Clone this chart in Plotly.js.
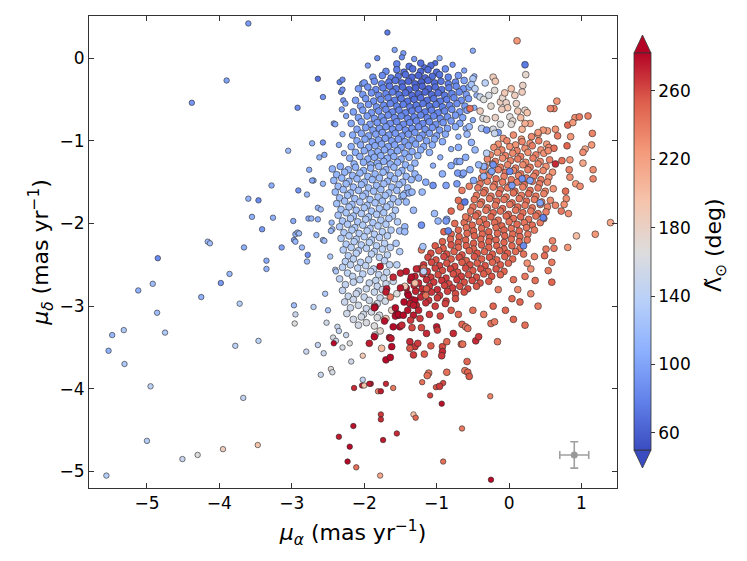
<!DOCTYPE html>
<html><head><meta charset="utf-8">
<script src="https://cdn.plot.ly/plotly-3.0.1.min.js"></script>
<style>html,body{margin:0;padding:0;background:#fff}#chart{width:747px;height:561px}</style>
</head><body><div id="chart"></div>
<script>
// Each point: [mu_alpha (mas/yr), mu_delta (mas/yr), Lambda_sun (deg)]
const halo = [
[-3.60,0.42,95],[-3.90,-0.27,100],[-4.38,-0.54,92],[-2.92,-0.60,85],[-3.05,-1.12,118],[-3.28,-1.54,108],[-3.60,-1.70,112],[-3.46,-1.72,85],[-2.91,-1.60,90],[-3.55,-1.92,110],[-3.26,-1.93,110],[-3.41,-2.07,95],[-2.98,-1.97,105],[-2.97,-2.20,100],[-2.95,-2.22,115],[-2.95,-2.13,115],[-3.14,-2.29,100],[-3.66,-2.29,110],[-4.16,-2.22,120],[-4.13,-2.24,120],[-4.85,-2.42,85],[-3.35,-2.45,105],[-3.35,-2.55,110],[-3.86,-2.61,115],[-3.98,-2.72,95],[-4.92,-2.73,120],[-5.12,-2.81,110],[-4.25,-2.89,110],[-3.72,-2.97,135],[-2.97,-2.99,120],[-2.95,-3.10,150],[-2.96,-3.21,165],[-4.86,-3.08,120],[-5.32,-3.29,130],[-5.48,-3.35,115],[-4.75,-3.32,130],[-5.53,-3.54,110],[-5.31,-3.70,130],[-3.78,-3.48,140],[-3.46,-3.42,140],[-4.95,-3.97,140],[-3.67,-4.11,145],[-5.00,-4.63,135],[-4.51,-4.85,150],[-4.30,-4.80,165],[-3.95,-4.73,185],[-3.47,-4.68,195],[-5.56,-5.05,135]
];
const bottomScatter = [
[-2.14,-3.99,270],[-2.03,-3.96,275],[-2.00,-3.96,195],[-1.91,-3.94,275],[-1.70,-3.94,270],[-1.81,-4.03,235],[-1.77,-4.03,275],[-1.60,-3.99,240],[-1.20,-3.92,245],[-1.01,-3.98,255],[-0.91,-3.93,260],[-1.09,-4.08,262],[-0.93,-4.18,278],[-0.26,-4.09,235],[-1.77,-4.31,265],[-1.77,-4.37,270],[-1.32,-4.31,200],[-1.29,-4.35,250],[-2.15,-4.45,278],[-0.65,-4.48,240],[-2.35,-4.58,275],[-1.55,-4.54,270],[-1.74,-4.62,275],[-2.20,-4.70,280],[-2.23,-4.88,280],[-2.11,-4.95,245],[-0.91,-4.88,245],[-1.78,-5.05,215],[-0.25,-5.10,280],[-1.93,-3.94,275]
];
const sparseNear = [
[-1.68,0.31,75],[-1.58,0.10,100],[-1.46,0.06,95],[-1.48,0.01,85],[-1.82,0.00,85],[-1.31,-0.01,95],[-0.96,0.00,110],[-1.02,-0.06,70],[-1.17,-0.11,70],[-1.95,-0.09,95],[-0.50,0.09,105],[-2.64,-0.25,70],[-2.34,-0.29,80],[-2.30,-0.26,85],[-2.03,-0.31,100],[-2.32,-0.41,80],[-2.30,-0.38,90],[-2.57,-0.47,90],[-2.29,-0.51,95],[-2.26,-0.55,100],[-2.31,-0.62,100],[-2.42,-0.79,95],[-2.40,-0.80,105],[-2.72,-1.03,110],[-2.57,-1.02,90],[-2.62,-1.20,110],[-2.55,-1.17,105],[-2.25,-0.70,100],[-2.30,-0.92,108],[-2.35,-1.05,110],[-2.28,-1.15,112],[-0.78,-0.08,90],[-0.62,-0.15,100],[-0.48,-0.22,115],[-0.45,-0.45,112],[-0.48,-0.60,110],[-0.50,-0.75,105],[-0.60,-0.85,108],[-0.70,-0.95,110],[-0.80,-1.10,108],[-0.95,-1.20,112],[-1.05,-1.30,110],
[-2.76,-1.35,110],[-2.70,-1.48,115],[-2.72,-1.48,105],[-2.57,-1.52,115],[-2.79,-1.65,115],[-2.64,-1.81,115],[-2.60,-1.83,120],[-2.77,-1.94,105],[-2.73,-1.94,115],[-2.45,-1.99,115],[-2.44,-2.07,125],[-2.46,-2.09,120],[-2.92,-2.11,120],[-2.90,-2.12,120],[-2.86,-2.29,120],[-2.57,-2.20,125],[-2.55,-2.21,120],[-2.78,-2.38,90],[-2.79,-2.46,120],[-2.47,-2.40,130],[-2.70,-3.01,140],[-2.64,-1.95,110],[-2.66,-2.14,115],[-2.40,-2.56,140],[-2.39,-2.58,130],[-2.54,-2.85,130],[-2.50,-3.05,130],[-2.52,-3.20,155],[-2.37,-3.25,150],[-2.43,-3.38,160],[-2.39,-3.42,155],[-2.42,-3.45,280],[-2.64,-3.47,145],[-2.80,-3.55,150],[-2.56,-3.57,150],[-2.18,-3.67,155],[-2.02,-3.60,190],[-2.60,-3.83,150],[-2.46,-3.76,170],[-2.44,-3.80,160],[-2.02,-3.89,145],[-2.35,-3.30,145],[-2.30,-3.50,160],[-2.25,-3.35,150],[-2.20,-3.45,165]
];
const blueCore = [
[-1.55,-0.07,80],[-1.38,-0.10,72],[-1.22,-0.06,70],[-1.08,-0.09,68],
[-1.70,-0.16,85],[-1.55,-0.14,78],[-1.45,-0.17,72],[-1.33,-0.13,70],[-1.22,-0.16,66],[-1.12,-0.14,68],[-1.00,-0.17,70],[-0.88,-0.13,88],
[-1.88,-0.23,92],[-1.75,-0.21,85],[-1.63,-0.24,80],[-1.53,-0.22,74],[-1.43,-0.20,70],[-1.34,-0.23,66],[-1.25,-0.21,64],[-1.16,-0.24,66],[-1.06,-0.22,68],[-0.96,-0.20,72],[-0.84,-0.23,80],[-0.70,-0.21,95],
[-2.00,-0.30,95],[-1.86,-0.28,88],[-1.76,-0.31,82],[-1.66,-0.29,76],[-1.57,-0.27,72],[-1.48,-0.30,68],[-1.39,-0.28,65],[-1.30,-0.31,64],[-1.21,-0.29,63],[-1.12,-0.27,66],[-1.03,-0.30,68],[-0.94,-0.28,72],[-0.84,-0.31,78],[-0.74,-0.29,84],[-0.62,-0.27,100],
[-2.08,-0.37,96],[-1.95,-0.35,90],[-1.84,-0.38,85],[-1.74,-0.36,80],[-1.65,-0.34,75],[-1.56,-0.37,72],[-1.47,-0.35,68],[-1.38,-0.38,66],[-1.29,-0.36,64],[-1.20,-0.34,64],[-1.11,-0.37,65],[-1.02,-0.35,68],[-0.93,-0.38,72],[-0.83,-0.36,78],[-0.73,-0.34,85],[-0.63,-0.37,92],[-0.55,-0.35,105],
[-2.02,-0.44,95],[-1.90,-0.42,90],[-1.80,-0.45,86],[-1.70,-0.43,82],[-1.61,-0.41,78],[-1.52,-0.44,74],[-1.43,-0.42,70],[-1.34,-0.45,68],[-1.25,-0.43,66],[-1.16,-0.41,66],[-1.07,-0.44,68],[-0.98,-0.42,70],[-0.89,-0.45,74],[-0.79,-0.43,80],[-0.69,-0.41,86],[-0.59,-0.44,95],
[-2.12,-0.51,98],[-1.98,-0.49,94],[-1.87,-0.52,90],[-1.77,-0.50,86],[-1.67,-0.48,82],[-1.58,-0.51,78],[-1.49,-0.49,75],[-1.40,-0.52,72],[-1.31,-0.50,70],[-1.22,-0.48,70],[-1.13,-0.51,70],[-1.04,-0.49,72],[-0.95,-0.52,75],[-0.86,-0.50,78],[-0.76,-0.48,84],[-0.66,-0.51,90],[-0.56,-0.49,98],
[-2.05,-0.58,98],[-1.94,-0.56,94],[-1.83,-0.59,90],[-1.73,-0.57,86],[-1.64,-0.55,83],[-1.55,-0.58,80],[-1.46,-0.56,78],[-1.37,-0.59,76],[-1.28,-0.57,75],[-1.19,-0.55,74],[-1.10,-0.58,74],[-1.01,-0.56,76],[-0.92,-0.59,79],[-0.82,-0.57,83],[-0.72,-0.55,88],[-0.61,-0.58,95],
[-2.15,-0.65,100],[-2.02,-0.63,97],[-1.90,-0.66,94],[-1.80,-0.64,90],[-1.70,-0.62,87],[-1.61,-0.65,84],[-1.52,-0.63,82],[-1.43,-0.66,80],[-1.34,-0.64,79],[-1.25,-0.62,78],[-1.16,-0.65,78],[-1.07,-0.63,79],[-0.98,-0.66,81],[-0.89,-0.64,84],[-0.79,-0.62,88],[-0.68,-0.65,94],[-0.58,-0.63,100],
[-2.08,-0.72,100],[-1.96,-0.70,97],[-1.86,-0.73,94],[-1.76,-0.71,91],[-1.67,-0.69,88],[-1.58,-0.72,86],[-1.49,-0.70,84],[-1.40,-0.73,83],[-1.31,-0.71,82],[-1.22,-0.69,82],[-1.13,-0.72,82],[-1.04,-0.70,84],[-0.95,-0.73,86],[-0.85,-0.71,90],[-0.74,-0.69,95],[-0.64,-0.72,102],
[-2.18,-0.79,104],[-2.04,-0.77,100],[-1.92,-0.80,97],[-1.82,-0.78,95],[-1.73,-0.76,92],[-1.64,-0.79,90],[-1.55,-0.77,88],[-1.46,-0.80,87],[-1.37,-0.78,86],[-1.28,-0.76,86],[-1.19,-0.79,86],[-1.10,-0.77,87],[-1.01,-0.80,89],[-0.91,-0.78,92],[-0.80,-0.76,96],[-0.68,-0.79,104],
[-2.10,-0.86,103],[-1.98,-0.84,100],[-1.88,-0.87,98],[-1.79,-0.85,96],[-1.70,-0.83,94],[-1.61,-0.86,92],[-1.52,-0.84,91],[-1.43,-0.87,90],[-1.34,-0.85,90],[-1.25,-0.83,90],[-1.16,-0.86,91],[-1.06,-0.84,93],[-0.96,-0.87,96],[-0.85,-0.85,100],[-0.74,-0.83,106],
[-2.16,-0.93,106],[-2.04,-0.91,103],[-1.94,-0.94,101],[-1.84,-0.92,99],[-1.75,-0.90,97],[-1.66,-0.93,96],[-1.57,-0.91,95],[-1.48,-0.94,94],[-1.39,-0.92,94],[-1.30,-0.90,94],[-1.20,-0.93,95],[-1.10,-0.91,97],[-1.00,-0.94,100],[-0.88,-0.92,104],
[-2.10,-1.00,106],[-1.99,-0.98,104],[-1.89,-1.01,102],[-1.80,-0.99,100],[-1.71,-0.97,99],[-1.62,-1.00,98],[-1.53,-0.98,98],[-1.44,-1.01,98],[-1.34,-0.99,98],[-1.24,-0.97,99],[-1.14,-1.00,101],[-1.03,-0.98,104],[-0.92,-1.01,108],
[-2.18,-1.07,110],[-2.05,-1.05,107],[-1.94,-1.08,105],[-1.85,-1.06,104],[-1.76,-1.04,103],[-1.67,-1.07,102],[-1.58,-1.05,102],[-1.49,-1.08,102],[-1.39,-1.06,102],[-1.29,-1.04,103],[-1.18,-1.07,105],[-1.06,-1.05,108],
[-2.12,-1.14,110],[-2.00,-1.12,108],[-1.90,-1.15,107],[-1.81,-1.13,106],[-1.72,-1.11,106],[-1.63,-1.14,105],[-1.54,-1.12,105],[-1.44,-1.15,106],[-1.34,-1.13,107],[-1.22,-1.11,109],[-1.10,-1.14,112],
[-2.20,-1.21,112],[-2.06,-1.19,110],[-1.95,-1.22,109],[-1.86,-1.20,108],[-1.77,-1.18,108],[-1.68,-1.21,108],[-1.59,-1.19,108],[-1.49,-1.22,109],[-1.38,-1.20,111],[-1.26,-1.18,113],
[-2.14,-1.28,113],[-2.01,-1.26,111],[-1.91,-1.29,110],[-1.82,-1.27,110],[-1.73,-1.25,110],[-1.64,-1.28,111],[-1.54,-1.26,112],[-1.43,-1.29,113],[-1.30,-1.27,115]
];
const stream = [
[-2.44,-1.34,112],[-2.33,-1.31,110],[-2.22,-1.35,114],[-2.12,-1.32,112],[-2.01,-1.36,113],[-1.91,-1.33,111],[-1.80,-1.31,114],[-1.70,-1.35,112],[-1.59,-1.32,115],[-1.48,-1.36,113],[-1.36,-1.33,116],
[-2.38,-1.41,114],[-2.27,-1.38,113],[-2.16,-1.42,116],[-2.06,-1.39,114],[-1.95,-1.43,116],[-1.85,-1.40,115],[-1.74,-1.38,117],[-1.64,-1.42,115],[-1.53,-1.39,118],[-1.42,-1.43,116],[-1.30,-1.40,114],
[-2.42,-1.48,116],[-2.31,-1.45,115],[-2.21,-1.49,118],[-2.10,-1.46,116],[-2.00,-1.50,119],[-1.89,-1.47,117],[-1.79,-1.45,119],[-1.68,-1.49,117],[-1.58,-1.46,120],[-1.47,-1.50,118],[-1.35,-1.47,116],
[-2.36,-1.55,118],[-2.25,-1.52,117],[-2.15,-1.56,120],[-2.04,-1.53,118],[-1.94,-1.57,121],[-1.83,-1.54,119],[-1.73,-1.52,121],[-1.62,-1.56,119],[-1.52,-1.53,122],[-1.40,-1.57,120],
[-2.40,-1.62,119],[-2.29,-1.59,121],[-2.19,-1.63,120],[-2.08,-1.60,122],[-1.98,-1.64,121],[-1.87,-1.61,123],[-1.77,-1.59,121],[-1.66,-1.63,124],[-1.55,-1.60,122],[-1.44,-1.64,120],
[-2.34,-1.69,121],[-2.23,-1.66,123],[-2.13,-1.70,122],[-2.02,-1.67,124],[-1.92,-1.71,123],[-1.81,-1.68,125],[-1.71,-1.66,123],[-1.60,-1.70,126],[-1.48,-1.67,124],
[-2.38,-1.76,123],[-2.27,-1.73,124],[-2.17,-1.77,123],[-2.06,-1.74,126],[-1.96,-1.78,125],[-1.85,-1.75,127],[-1.75,-1.73,125],[-1.64,-1.77,128],[-1.53,-1.74,126],
[-2.32,-1.83,125],[-2.21,-1.80,126],[-2.11,-1.84,125],[-2.00,-1.81,128],[-1.90,-1.85,127],[-1.79,-1.82,129],[-1.69,-1.80,127],[-1.57,-1.84,130],
[-2.36,-1.90,126],[-2.25,-1.87,128],[-2.15,-1.91,127],[-2.04,-1.88,130],[-1.94,-1.92,128],[-1.83,-1.89,131],[-1.73,-1.87,129],[-1.61,-1.91,132],
[-2.30,-1.97,128],[-2.19,-1.94,130],[-2.09,-1.98,129],[-1.98,-1.95,132],[-1.88,-1.99,130],[-1.77,-1.96,133],[-1.66,-1.94,131],[-1.54,-1.98,134],
[-2.34,-2.04,130],[-2.23,-2.01,131],[-2.13,-2.05,130],[-2.02,-2.02,133],[-1.92,-2.06,132],[-1.81,-2.03,134],[-1.70,-2.01,133],
[-2.28,-2.11,131],[-2.17,-2.08,133],[-2.07,-2.12,132],[-1.96,-2.09,135],[-1.86,-2.13,134],[-1.75,-2.10,136],[-1.63,-2.08,134],
[-2.32,-2.18,133],[-2.21,-2.15,134],[-2.11,-2.19,133],[-2.00,-2.16,136],[-1.90,-2.20,135],[-1.79,-2.17,137],[-1.68,-2.15,136],
[-2.25,-2.25,134],[-2.14,-2.22,136],[-2.04,-2.26,135],[-1.93,-2.23,138],[-1.83,-2.27,137],[-1.72,-2.24,139],
[-2.29,-2.32,136],[-2.18,-2.29,137],[-2.08,-2.33,136],[-1.97,-2.30,139],[-1.86,-2.34,138],[-1.75,-2.31,140],[-1.64,-2.29,139],
[-2.22,-2.39,137],[-2.11,-2.36,139],[-1.90,-2.37,141],[-1.79,-2.41,140],[-1.68,-2.38,142],
[-2.26,-2.46,139],[-2.15,-2.43,140],[-2.05,-2.47,139],[-1.94,-2.44,142],[-1.72,-2.45,143],
[-2.30,-2.53,140],[-2.19,-2.50,142],[-2.09,-2.54,141],[-1.98,-2.51,144],[-1.87,-2.55,143],[-1.65,-2.50,144],
[-2.23,-2.60,142],[-2.02,-2.61,142],[-1.91,-2.58,145],[-1.80,-2.62,144],[-1.69,-2.59,146],
[-2.34,-2.67,143],[-2.16,-2.64,145],[-2.06,-2.68,144],[-1.84,-2.69,146],[-1.73,-2.66,148],
[-2.26,-2.74,145],[-2.15,-2.71,146],[-1.93,-2.72,148],[-1.82,-2.76,147],[-1.70,-2.73,150],
[-2.30,-2.81,146],[-2.08,-2.82,147],[-1.97,-2.79,150],[-1.86,-2.83,149],[-1.75,-2.80,152],
[-2.22,-2.88,148],[-2.11,-2.85,150],[-2.00,-2.89,149],[-1.78,-2.90,151],
[-2.27,-2.95,150],[-2.15,-2.92,152],[-1.93,-2.93,154],[-1.82,-2.97,153],[-1.71,-2.94,156],
[-2.19,-3.02,152],[-2.08,-2.99,154],[-1.97,-3.03,153],[-1.86,-3.00,156],
[-2.24,-3.09,154],[-2.01,-3.10,155],[-1.90,-3.07,158],[-1.79,-3.11,160],
[-2.15,-3.16,156],[-2.04,-3.13,158],[-1.82,-3.14,163],
[-2.08,-3.23,158],[-1.97,-3.20,162],[-1.86,-3.24,166],
[-1.46,-1.66,115],[-1.38,-1.63,110],[-1.34,-1.62,115],[-1.42,-1.74,118],[-1.32,-1.84,120],[-1.51,-2.09,125],[-1.44,-2.04,115],[-1.44,-2.10,120],[-1.56,-2.24,130],[-1.51,-2.34,135],[-1.25,-1.45,112],[-1.15,-1.50,108],[-1.20,-1.62,118],[-1.55,-2.50,140],[-1.60,-2.70,150],[-1.55,-2.85,165],[-1.62,-3.05,180],[-1.70,-3.15,190],[-1.78,-3.30,175],[-1.85,-3.35,160]
];
const beige = [
[0.22,-0.08,75],[0.23,-0.20,175],[-0.22,-0.23,185],[-0.19,-0.28,190],[-0.33,-0.30,140],[-0.50,-0.25,130],[-0.52,-0.32,125],[-0.47,-0.37,140],[-0.20,-0.39,170],[0.03,-0.37,195],[0.19,-0.33,180],[0.18,-0.41,185],[-0.40,-0.47,150],[-0.35,-0.50,165],[-0.12,-0.53,185],[-0.09,-0.48,175],[-0.04,-0.54,180],[-0.02,-0.60,190],[0.22,-0.63,175],[0.25,-0.66,195],[-0.40,-0.64,185],[-0.36,-0.73,165],[-0.31,-0.74,175],[-0.19,-0.72,180],[0.01,-0.71,170],[0.05,-0.76,175],[0.03,-0.80,170],[-0.54,-0.61,245],[-0.55,-0.83,120],[-0.38,-0.85,140],[-0.31,-0.87,90],[-0.10,-0.62,185],[0.10,-0.55,180],[0.12,-0.64,190],[-0.25,-0.58,175],[-0.06,-0.42,190],[0.08,-0.45,185],[-0.28,-0.45,160],[0.16,-0.72,200],[-0.12,-0.80,165],[-0.22,-0.86,160],[0.18,-0.86,205],[-0.15,-0.90,95],[-0.20,-0.91,150]
];
const redCore = [
[-0.08,-0.97,225],[0.06,-0.93,230],[0.17,-0.98,222],[0.31,-0.95,232],[0.40,-0.92,218],
[-0.15,-1.04,228],[-0.03,-1.00,232],[0.09,-1.05,226],[0.18,-1.01,234],[0.29,-1.03,228],[0.41,-1.00,236],[0.52,-1.04,222],
[-0.21,-1.08,230],[-0.10,-1.11,234],[0.01,-1.07,228],[0.11,-1.12,236],[0.22,-1.09,230],[0.32,-1.06,238],[0.44,-1.11,226],[0.55,-1.08,232],
[-0.26,-1.17,232],[-0.16,-1.14,226],[-0.05,-1.18,236],[0.05,-1.15,232],[0.16,-1.19,238],[0.26,-1.14,230],[0.37,-1.17,236],[0.48,-1.15,228],
[-0.30,-1.22,234],[-0.19,-1.25,238],[-0.09,-1.21,230],[0.02,-1.24,236],[0.12,-1.22,240],[0.23,-1.26,232],[0.33,-1.21,238],[0.43,-1.25,230],[0.56,-1.23,236],
[-0.33,-1.31,236],[-0.23,-1.28,232],[-0.12,-1.32,240],[-0.02,-1.29,234],[0.09,-1.33,238],[0.19,-1.29,232],[0.29,-1.32,240],[0.40,-1.28,234],[0.51,-1.31,228],
[-0.36,-1.36,234],[-0.26,-1.39,240],[-0.15,-1.35,236],[-0.05,-1.38,242],[0.06,-1.36,234],[0.16,-1.40,240],[0.26,-1.35,236],[0.37,-1.39,242],[0.47,-1.36,232],[0.60,-1.38,226],
[-0.38,-1.45,238],[-0.28,-1.42,234],[-0.18,-1.46,242],[-0.07,-1.43,236],[0.03,-1.47,240],[0.13,-1.42,234],[0.24,-1.45,242],[0.34,-1.43,236],[0.44,-1.47,238],[0.55,-1.44,230],
[-0.40,-1.52,240],[-0.30,-1.49,236],[-0.20,-1.53,244],[-0.09,-1.50,238],[0.01,-1.54,242],[0.11,-1.50,236],[0.21,-1.53,244],[0.32,-1.49,238],[0.42,-1.52,240],[0.53,-1.50,232],
[-0.43,-1.57,238],[-0.33,-1.60,242],[-0.22,-1.56,236],[-0.12,-1.59,244],[-0.02,-1.57,238],[0.08,-1.61,242],[0.19,-1.56,236],[0.29,-1.60,244],[0.40,-1.57,238],[0.50,-1.61,234],[0.61,-1.58,228],
[-0.45,-1.66,240],[-0.35,-1.63,244],[-0.25,-1.67,238],[-0.14,-1.64,246],[-0.04,-1.68,240],[0.06,-1.63,244],[0.17,-1.66,238],[0.27,-1.64,246],[0.37,-1.67,240],[0.48,-1.64,236],
[-0.48,-1.71,242],[-0.38,-1.74,246],[-0.27,-1.70,240],[-0.17,-1.73,246],[-0.07,-1.71,242],[0.04,-1.75,246],[0.14,-1.70,240],[0.24,-1.73,246],[0.35,-1.71,240],[0.45,-1.74,238],[0.57,-1.72,232],
[-0.50,-1.80,244],[-0.40,-1.77,240],[-0.30,-1.81,246],[-0.19,-1.78,242],[-0.09,-1.82,248],[0.01,-1.77,242],[0.12,-1.80,246],[0.22,-1.78,240],[0.32,-1.81,244],[0.43,-1.77,238],[0.53,-1.80,234],
[-0.53,-1.85,242],[-0.43,-1.88,246],[-0.32,-1.84,242],[-0.22,-1.87,248],[-0.12,-1.85,244],[-0.01,-1.89,248],[0.09,-1.84,242],[0.19,-1.87,246],[0.30,-1.85,240],[0.40,-1.88,244],[0.51,-1.86,236],
[-0.56,-1.94,244],[-0.46,-1.91,248],[-0.35,-1.95,244],[-0.25,-1.92,250],[-0.15,-1.96,244],[-0.04,-1.91,248],[0.06,-1.94,244],[0.16,-1.92,248],[0.27,-1.95,242],[0.37,-1.91,244],[0.48,-1.94,238],
[-0.62,-1.99,246],[-0.51,-2.02,250],[-0.41,-1.98,244],[-0.31,-2.01,250],[-0.20,-1.99,246],[-0.10,-2.03,250],[0.00,-1.98,244],[0.11,-2.01,248],[0.21,-1.99,242],[0.32,-2.02,246],[0.43,-1.99,240],
[-0.70,-2.08,248],[-0.59,-2.05,244],[-0.49,-2.09,250],[-0.38,-2.06,246],[-0.28,-2.10,252],[-0.18,-2.05,246],[-0.07,-2.08,250],[0.03,-2.06,244],[0.14,-2.09,248],[0.24,-2.05,242],[0.35,-2.08,240],
[-0.80,-2.13,250],[-0.69,-2.16,252],[-0.58,-2.12,248],[-0.48,-2.15,252],[-0.37,-2.13,248],[-0.27,-2.17,252],[-0.16,-2.12,248],[-0.06,-2.15,250],[0.05,-2.13,246],[0.15,-2.16,248],[0.26,-2.13,242],
[-0.92,-2.22,252],[-0.81,-2.19,248],[-0.70,-2.23,254],[-0.60,-2.20,250],[-0.49,-2.24,254],[-0.39,-2.19,248],[-0.28,-2.22,252],[-0.18,-2.20,248],[-0.07,-2.23,250],[0.03,-2.19,246],[0.14,-2.22,248],[0.25,-2.20,242],
[-1.02,-2.27,255],[-0.91,-2.30,252],[-0.80,-2.26,256],[-0.70,-2.29,250],[-0.59,-2.27,254],[-0.49,-2.31,250],[-0.38,-2.26,254],[-0.28,-2.29,250],[-0.17,-2.27,252],[-0.07,-2.31,248],[0.04,-2.27,250],[0.15,-2.30,244],
[-1.08,-2.36,258],[-0.97,-2.33,254],[-0.86,-2.37,258],[-0.76,-2.34,252],[-0.65,-2.38,256],[-0.55,-2.33,252],[-0.44,-2.36,256],[-0.34,-2.34,250],[-0.23,-2.37,254],[-0.13,-2.33,250],[-0.02,-2.36,252],[0.09,-2.34,246],[0.20,-2.37,244],
[-1.12,-2.41,260],[-1.01,-2.44,256],[-0.90,-2.40,260],[-0.80,-2.43,254],[-0.69,-2.41,258],[-0.59,-2.45,252],[-0.48,-2.40,256],[-0.38,-2.43,252],[-0.27,-2.41,256],[-0.17,-2.44,250],[-0.06,-2.40,252],[0.05,-2.43,248],
[-1.18,-2.50,265],[-1.07,-2.47,260],[-0.96,-2.51,262],[-0.86,-2.48,256],[-0.75,-2.52,260],[-0.65,-2.47,254],[-0.54,-2.50,258],[-0.44,-2.48,252],[-0.33,-2.51,256],[-0.23,-2.47,250],[-0.12,-2.50,254],[-0.01,-2.48,248],
[-1.24,-2.55,270],[-1.13,-2.58,265],[-1.02,-2.54,262],[-0.92,-2.57,258],[-0.81,-2.55,262],[-0.71,-2.59,256],[-0.60,-2.54,260],[-0.50,-2.57,254],[-0.39,-2.55,258],[-0.29,-2.58,252],[-0.18,-2.55,256],[-0.07,-2.58,250],
[-1.30,-2.64,272],[-1.19,-2.61,268],[-1.08,-2.65,264],[-0.98,-2.62,260],[-0.87,-2.66,264],[-0.77,-2.61,258],[-0.66,-2.64,262],[-0.56,-2.62,256],[-0.45,-2.65,258],[-0.35,-2.61,254],[-0.24,-2.64,256],[-0.12,-2.62,250],
[-1.36,-2.69,275],[-1.25,-2.72,272],[-1.14,-2.68,268],[-1.04,-2.71,264],[-0.93,-2.69,266],[-0.83,-2.73,260],[-0.72,-2.68,264],[-0.62,-2.71,258],[-0.51,-2.69,260],[-0.40,-2.72,256],[-0.28,-2.70,254],
[-1.42,-2.78,278],[-1.31,-2.75,274],[-1.20,-2.79,270],[-1.10,-2.76,266],[-0.99,-2.80,268],[-0.89,-2.75,262],[-0.78,-2.78,264],[-0.68,-2.76,258],[-0.57,-2.79,260],[-0.45,-2.76,256],
[-1.40,-2.85,276],[-1.29,-2.82,272],[-1.18,-2.86,268],[-1.07,-2.83,266],[-0.96,-2.87,264],[-0.85,-2.82,262],[-0.74,-2.85,260],[-0.62,-2.83,258],
[-1.34,-2.92,274],[-1.22,-2.89,270],[-1.11,-2.93,266],[-0.99,-2.90,264],[-0.87,-2.94,262],[-0.74,-2.91,258],
[-1.28,-2.99,272],[-1.15,-2.96,268],[-1.02,-3.00,264],[-0.88,-2.97,262],
[-0.70,-1.72,245],[-0.67,-1.80,242],[-0.80,-1.85,248],[-0.60,-1.92,240],[-0.75,-2.00,246],[-0.90,-2.10,248],[-0.65,-1.60,238],[-0.55,-1.55,236]
];
const darkTail = [
[-1.78,-2.52,275],[-1.69,-2.79,275],[-1.85,-3.01,275],[-1.64,-2.89,240],[-1.39,-2.87,282],[-1.30,-2.93,280],[-1.37,-2.97,275],[-1.18,-2.54,250],[-1.21,-2.32,240],[-1.14,-2.79,255],[-1.15,-2.87,245],[-1.55,-3.09,280],[-1.52,-3.11,275],[-1.57,-3.12,280],[-1.30,-2.72,200],[-1.44,-2.76,190],[-1.86,-3.02,280],[-1.70,-2.83,275],[-1.32,-2.99,275],[-1.57,-3.02,280],[-1.53,-3.10,282],[-1.46,-3.11,280],[-1.32,-3.11,275],[-1.23,-3.15,265],[-1.51,-3.25,280],[-1.48,-3.23,270],[-1.36,-3.17,265],[-1.34,-3.26,260],[-1.86,-3.37,280],[-1.65,-3.38,280],[-1.63,-3.39,275],[-1.37,-3.43,270],[-1.30,-3.49,265],[-1.26,-3.45,265],[-1.37,-3.51,255],[-1.32,-3.59,265],[-1.08,-3.48,255],[-0.92,-3.49,260],[-0.92,-3.55,270],[-0.93,-3.60,265],[-0.86,-3.43,250],[-1.17,-3.58,255],[-0.66,-3.46,250],[-0.64,-3.46,245],[-0.46,-3.42,270],[-0.42,-3.37,265],[-0.16,-3.43,240],[-0.58,-3.67,250],[-0.61,-3.78,240],[-0.57,-3.80,250],[-0.55,-3.85,255],[-0.86,-3.80,245],[-1.11,-3.81,240],[-1.13,-3.84,245],[-0.96,-3.97,265],[-1.21,-3.26,260],[-1.14,-3.33,270],[-1.00,-3.25,275],[-0.99,-3.29,265],[-0.77,-3.33,270],[-0.65,-3.22,250],[-0.60,-3.25,240],[-0.57,-3.27,245],[-0.25,-3.21,245],[-0.20,-3.19,240],[-1.76,-3.51,200],[-1.62,-3.49,280],[-1.70,-3.65,280],[-1.64,-3.62,280],[-1.93,-3.45,275],[-1.40,-3.05,278],[-1.45,-2.95,280],[-1.25,-3.05,272],[-1.10,-3.10,265],[-0.95,-3.12,260],[-0.80,-3.05,255],[-0.70,-3.10,250],[-0.50,-3.05,245],[-0.35,-3.10,240],[-1.60,-2.65,270],[-1.50,-2.60,272],[-1.42,-2.58,275],[-1.35,-2.65,278],[-1.28,-2.55,270],[-1.50,-2.78,276],[-1.60,-3.25,280],[-1.72,-3.18,278],[-0.05,-3.05,250],[0.06,-2.68,245],[0.22,-2.64,240],[0.04,-2.91,248],[-0.22,-3.00,250],[-0.15,-2.80,238],[0.12,-2.80,232],[0.30,-2.55,230],[0.35,-2.40,236],[0.25,-2.48,228]
];
const salmon = [
[0.11,0.21,225],[0.66,-0.52,225],[0.62,-0.61,235],[0.57,-0.61,235],[0.91,-0.72,230],[0.97,-0.71,240],[1.09,-0.70,235],[0.81,-0.81,250],[0.88,-0.78,225],[0.64,-0.86,225],[0.67,-0.94,240],[0.53,-0.88,220],[0.47,-0.87,225],[0.40,-0.90,225],[0.29,-0.79,215],[0.22,-0.79,210],[1.15,-0.91,235],[0.85,-0.95,225],[1.14,-1.05,225],[0.80,-1.06,250],[1.05,-1.10,215],[0.62,-1.09,245],[0.54,-1.12,230],[1.02,-1.14,230],[0.73,-1.24,245],[0.84,-1.23,225],[1.02,-1.27,215],[0.64,-1.28,270],[1.16,-1.35,230],[0.83,-1.35,235],[0.84,-1.44,230],[1.16,-1.46,235],[0.92,-1.52,225],[0.98,-1.55,230],[0.78,-1.61,245],[0.79,-1.70,230],[0.64,-1.78,235],[0.72,-1.85,240],[0.82,-1.88,230],[0.76,-1.77,230],[1.40,-1.99,215],[1.19,-2.13,225],[0.93,-2.15,200],[0.81,-2.29,225],[0.60,-2.21,235],[0.62,-2.30,240],[0.51,-2.31,240],[0.49,-2.39,245],[0.59,-2.47,240],[0.54,-2.57,240],[0.59,-2.71,250],[0.40,-3.00,240],[0.22,-3.23,245],[0.36,-2.69,245],[0.30,-2.85,235],[0.15,-2.95,250],[0.06,-3.16,250]
];
const sprinkled = [
[0.01,-1.37,85],[0.04,-1.54,95],[0.18,-1.46,90],[0.29,-1.48,100],[0.47,-1.93,80],[0.43,-1.75,100],[-0.24,-1.37,100],[-0.22,-1.29,90],[-0.61,-1.74,75],[-0.86,-1.95,110],[-0.84,-2.09,80],[-1.21,-2.02,90],[-1.19,-2.28,125],[-1.18,-2.58,140],[-0.72,-1.25,100],[-0.68,-1.25,105],[-0.54,-1.35,110],[-0.49,-1.48,105],[-0.65,-1.41,100],[-0.71,-1.39,95],[-0.35,-1.31,110],[-0.35,-1.43,115],[-0.31,-1.15,140],[-0.47,-1.11,115],[-0.87,-1.54,100],[-0.72,-1.52,95],[-0.87,-1.97,95],[-1.05,-1.54,90],[-0.63,-1.39,100],[-0.42,-1.29,115],[-1.03,-1.88,120],[-0.98,-1.97,115],[-0.60,-1.20,108],[-0.80,-1.30,105],[-0.92,-1.40,110],[-0.52,-1.02,112],[-0.70,-1.08,110],[-0.58,-0.92,118],[0.20,-2.27,85]
];
// reference error bar (typical uncertainty)
const errX = [0.90], errY = [-4.80], errDx = [0.20], errDy = [0.16];
const xTicks = [-5,-4,-3,-2,-1,0,1];
const yTicks = [-5,-4,-3,-2,-1,0];
const cbTicks = [60,100,140,180,220,260];
const lamMin = 50, lamMax = 282;

const coolwarm = [[0,'#3b4cc0'],[0.125,'#6282ea'],[0.25,'#8db0fe'],[0.375,'#b8d0f9'],[0.5,'#dddcdc'],[0.625,'#f5c4ac'],[0.75,'#f49a7b'],[0.875,'#de604d'],[1,'#b40426']];
const col = (arr,i) => arr.map(p => p[i]);

const mainPts = [].concat(blueCore, stream, beige, redCore, darkTail, salmon, sprinkled);
const smallPts = [].concat(halo, sparseNear, bottomScatter);
const mline = {color:'#262626', width:0.6};

const traces = [
 {type:'scatter', mode:'markers', x:col(smallPts,0), y:col(smallPts,1), hoverinfo:'skip',
  marker:{size:5.5, color:col(smallPts,2), colorscale:coolwarm, cmin:lamMin, cmax:lamMax, showscale:false, line:mline}},
 {type:'scatter', mode:'markers', x:col(mainPts,0), y:col(mainPts,1), hoverinfo:'skip',
  marker:{size:6.8, color:col(mainPts,2), colorscale:coolwarm, cmin:lamMin, cmax:lamMax, showscale:true, line:mline,
   colorbar:{x:1.032, xanchor:'left', xpad:0, y:0.501, yanchor:'middle', ypad:0, len:0.841, lenmode:'fraction',
     thickness:17, thicknessmode:'pixels', outlinewidth:0.8, outlinecolor:'#333',
     tickmode:'array', tickvals:cbTicks, ticks:'outside', ticklen:4, tickcolor:'#333', tickfont:{size:17, color:'#000'}}}},
 {type:'scatter', mode:'markers', x:errX, y:errY, hoverinfo:'skip',
  marker:{size:7, color:'#999999'},
  error_x:{type:'data', array:errDx, color:'#a0a0a0', thickness:1.6, width:4},
  error_y:{type:'data', array:errDy, color:'#a0a0a0', thickness:1.6, width:4}}
];

const axisBase = {ticks:'inside', ticklen:5, tickwidth:1, tickcolor:'#333', showline:true, linecolor:'#333', linewidth:1,
  mirror:'ticks', showgrid:false, zeroline:false, tickfont:{size:17, color:'#000'}};

const layout = {
  width:747, height:561, margin:{l:89, r:130, t:16, b:73},
  paper_bgcolor:'#fff', plot_bgcolor:'#fff', showlegend:false,
  font:{family:'DejaVu Sans', color:'#000'},
  xaxis:Object.assign({}, axisBase, {range:[-5.80,1.49], tickmode:'array', tickvals:xTicks,
    title:{text:'<i>μ</i><sub><i>α</i></sub> (mas yr<sup>−1</sup>)', font:{size:22}, standoff:12}}),
  yaxis:Object.assign({}, axisBase, {range:[-5.20,0.51], tickmode:'array', tickvals:yTicks,
    title:{text:'<i>μ</i><sub><i>δ</i></sub> (mas yr<sup>−1</sup>)', font:{size:22}, standoff:4}}),
  shapes:[
    {type:'path', xref:'paper', yref:'paper', path:'M1.0322,0.9216 L1.0644,0.9216 L1.0483,0.9597 Z', fillcolor:'#b40426', line:{color:'#333', width:0.8}},
    {type:'path', xref:'paper', yref:'paper', path:'M1.0322,0.0805 L1.0644,0.0805 L1.0483,0.0424 Z', fillcolor:'#3b4cc0', line:{color:'#333', width:0.8}}
  ],
  annotations:[
    {xref:'paper', yref:'paper', x:1.1875, y:0.515, text:'Λ̃<sub>⊙</sub> (deg)', textangle:-90, showarrow:false,
     font:{size:22, color:'#000'}, xanchor:'center', yanchor:'middle'}
  ]
};
Plotly.newPlot('chart', traces, layout, {displayModeBar:false, staticPlot:true});
</script></body></html>
